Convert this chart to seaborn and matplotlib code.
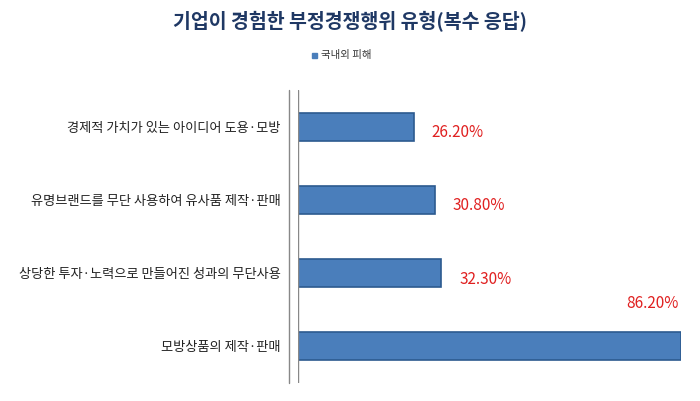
import matplotlib
matplotlib.use("Agg")
import matplotlib.pyplot as plt
import seaborn as sns
import pandas as pd

categories = ["경제적 가치가 있는 아이디어 도용·모방",
              "유명브랜드를 무단 사용하여 유사품 제작·판매",
              "상당한 투자·노력으로 만들어진 성과의 무단사용",
              "모방상품의 제작·판매"]
values = [26.2, 30.8, 32.3, 86.2]
labels = ["26.20%", "30.80%", "32.30%", "86.20%"]
series = "국내외 피해"

sns.set_theme(style="white")
plt.rcParams['font.family'] = ['Noto Sans CJK KR', 'DejaVu Sans']

df = pd.DataFrame({"cat": categories, "val": values})
fig = plt.figure(figsize=(7, 4.01), dpi=100)
ax = fig.add_axes([0.425, 0.045, 0.548, 0.73])
sns.barplot(data=df, y="cat", x="val", orient="h", color="#4A7EBB",
            edgecolor="#2C5A8F", linewidth=1.2, width=0.38, ax=ax, saturation=1)
ax.set_xlim(0, 86.2)
ax.set_xlabel(""); ax.set_ylabel("")
ax.set_xticks([])
for s in ax.spines.values():
    s.set_visible(False)
ax.tick_params(axis="y", length=0, pad=12, labelsize=9.5, labelcolor="#222222")
for i, (v, l) in enumerate(zip(values, labels)):
    if v > 80:
        ax.text(v - 0.5, i - 0.58, l, color="#E02020", fontsize=11, ha="right", va="center")
    else:
        ax.text(v + 4, i + 0.08, l, color="#E02020", fontsize=11, ha="left", va="center")
ax.axvline(0, color="#888888", lw=1)
ax.axvline(-1.8, color="#888888", lw=1, clip_on=False)
fig.text(0.5, 0.945, "기업이 경험한 부정경쟁행위 유형(복수 응답)", ha="center", va="center",
         fontsize=14, fontweight="bold", color="#1F3864")
fig.patches.append(plt.Rectangle((0.445, 0.855), 0.008, 0.014, transform=fig.transFigure,
                                 color="#4A7EBB"))
fig.text(0.458, 0.862, series, fontsize=7.5, va="center", color="#333333")
fig.savefig("out.png", dpi=100)
